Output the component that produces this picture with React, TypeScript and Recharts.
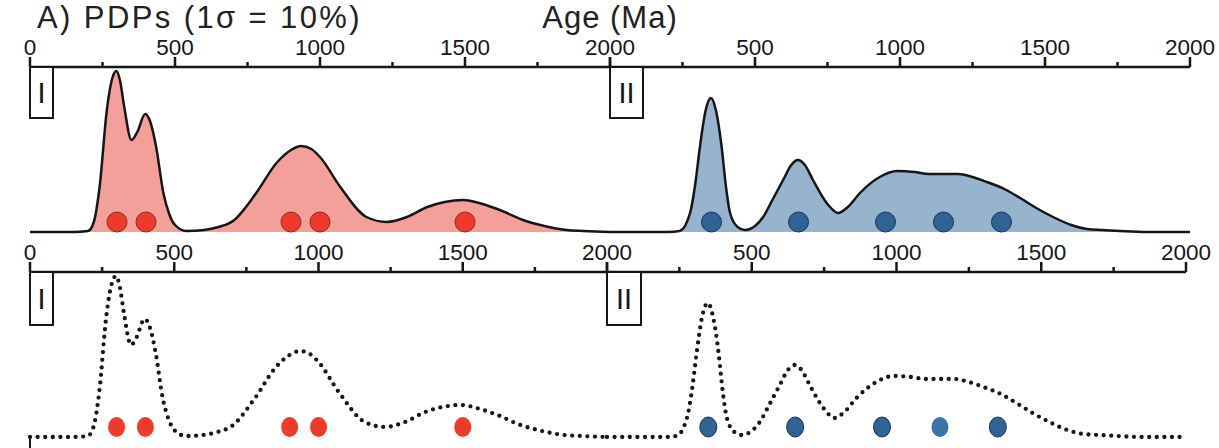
import React from 'react';
import { ComposedChart, Area, Line, Scatter, XAxis, YAxis } from 'recharts';

// PDP curves (density in plot units, baseline = 0)
const pdpAgesI = [0, 150, 200, 220, 240, 265, 285, 298, 310, 325, 350, 370, 397, 415, 435, 460, 480, 500, 540, 600, 650, 700, 780, 850, 900, 935, 970, 1000, 1070, 1160, 1230, 1300, 1370, 1430, 1495, 1560, 1620, 1700, 1760, 1850, 1910, 2000];
const pdpDensityI = [0, 0, 1, 10, 45, 122, 155, 161, 152, 125, 92, 100, 118, 110, 85, 39, 18, 7, 1, 2, 5, 11, 39, 69, 82, 86, 83, 75, 45, 15, 10, 15, 25, 30, 32, 28, 22, 12, 7, 2, 1, 0];

const pdpAgesII = [0, 200, 240, 276, 295, 310, 330, 348, 365, 385, 400, 414, 440, 465, 500, 528, 560, 597, 625, 648, 672, 700, 750, 786, 820, 862, 930, 990, 1050, 1100, 1200, 1250, 1300, 1360, 1414, 1470, 1528, 1590, 1645, 1700, 1760, 1850, 2000];
const pdpDensityII = [0, 0, 1, 19, 50, 85, 122, 134, 122, 85, 45, 19, 5, 2, 6, 15, 32, 52, 67, 72, 67, 52, 28, 19, 25, 39, 55, 61, 60, 58, 58, 55, 50, 43, 34, 24, 15, 7, 3, 2, 1, 0, 0];

// individual grain ages (Ma)
const grainAgesI = [300, 400, 900, 1000, 1500];
const grainAgesII = [350, 650, 950, 1150, 1350];

const ageTicks = [0, 250, 500, 750, 1000, 1250, 1500, 1750, 2000];

const DOT_LEVEL = 10;
const FONT = '"Liberation Sans", Arial, sans-serif';
const INK = '#161616';

const toRows = (ages: number[], dens: number[]) => ages.map((a, i) => ({ age: a, density: dens[i] }));
const toGrains = (ages: number[]) => ages.map((a) => ({ age: a, level: DOT_LEVEL }));

function AgeTick(props: any) {
  const { x, y, payload, hideZero } = props;
  const v = payload.value;
  const major = v % 500 === 0;
  const axisY = y + 12;
  return (
    <g>
      <line x1={x} x2={x} y1={axisY} y2={axisY - (major ? 10 : 5)} stroke={INK} strokeWidth={2.5} />
      {major && !(hideZero && v === 0) && (
        <text x={x} y={y} textAnchor="middle" fontSize={22.5} fill={INK} fontFamily={FONT}>
          {v}
        </text>
      )}
    </g>
  );
}

type PanelProps = {
  left: number;
  top: number;
  plotWidth: number;
  ages: number[];
  density: number[];
  grains: number[];
  fill: string;
  dotFill: string;
  dotStroke: string;
  dotted?: boolean;
  leftLine?: boolean;
  hideZero?: boolean;
  plainAge?: number;
};

function Panel(p: PanelProps) {
  const rows = toRows(p.ages, p.density);
  const grains = toGrains(p.grains);
  return (
    <div style={{ position: 'absolute', left: p.left - 30, top: p.top }}>
      <ComposedChart width={p.plotWidth + 60} height={240} data={rows} margin={{ top: 0, right: 30, bottom: 8, left: 30 }}>
        <XAxis
          dataKey="age"
          type="number"
          orientation="top"
          domain={[0, 2000]}
          ticks={ageTicks}
          interval={0}
          height={67}
          tickSize={10}
          tickMargin={2}
          tickLine={false}
          axisLine={{ stroke: INK, strokeWidth: 2.5 }}
          tick={(t: any) => <AgeTick {...t} hideZero={p.hideZero} />}
        />
        <YAxis
          type="number"
          domain={[0, 165]}
          width={0}
          tick={false}
          tickLine={false}
          axisLine={p.leftLine ? { stroke: INK, strokeWidth: 2 } : false}
        />
        {p.dotted ? (
          <Line
            type="monotone"
            dataKey="density"
            stroke={INK}
            strokeWidth={4.3}
            strokeLinecap="round"
            strokeDasharray="0 7.6"
            dot={false}
            isAnimationActive={false}
          />
        ) : (
          <Area
            type="monotone"
            dataKey="density"
            stroke={INK}
            strokeWidth={2.5}
            fill={p.fill}
            fillOpacity={1}
            baseValue={0}
            isAnimationActive={false}
          />
        )}
        <Scatter
          data={grains}
          dataKey="level"
          isAnimationActive={false}
          shape={(s: any) =>
            p.dotted ? (
              <ellipse
                cx={s.cx}
                cy={s.cy}
                rx={8.5}
                ry={10}
                fill={s.payload?.age === p.plainAge ? '#3A72AA' : p.dotFill}
                stroke={s.payload?.age === p.plainAge ? 'none' : p.dotStroke}
                strokeWidth={1}
              />
            ) : (
              <circle cx={s.cx} cy={s.cy} r={10} fill={p.dotFill} stroke={p.dotStroke} strokeWidth={1} />
            )
          }
        />
      </ComposedChart>
    </div>
  );
}

function Box({ x, y, w, h, label }: { x: number; y: number; w: number; h: number; label: string }) {
  return (
    <g>
      <rect x={x} y={y} width={w} height={h} fill="#fff" stroke={INK} strokeWidth={2} />
      <text x={x + w / 2} y={y + h / 2 + 10} textAnchor="middle" fontSize={29} fill={INK} fontFamily={FONT}>
        {label}
      </text>
    </g>
  );
}

export default function App() {
  const red = '#F4A09A';
  const blue = '#98B3CD';
  return (
    <div style={{ position: 'absolute', left: 0, top: 0, width: 1219, height: 448, overflow: 'hidden', background: '#fff' }}>
      <Panel left={30} top={0} plotWidth={580} ages={pdpAgesI} density={pdpDensityI} grains={grainAgesI}
        fill={red} dotFill="#EE3A2D" dotStroke="#8A2B22" leftLine />
      <Panel left={610} top={0} plotWidth={580} ages={pdpAgesII} density={pdpDensityII} grains={grainAgesII}
        fill={blue} dotFill="#2F6396" dotStroke="#1C3552" hideZero />
      <Panel left={30} top={205} plotWidth={577} ages={pdpAgesI} density={pdpDensityI} grains={grainAgesI}
        fill={red} dotFill="#EE3A2D" dotStroke="none" dotted leftLine />
      <Panel left={607} top={205} plotWidth={579} ages={pdpAgesII} density={pdpDensityII} grains={grainAgesII}
        fill={blue} dotFill="#2F6396" dotStroke="#1C3552" dotted hideZero plainAge={1150} />
      <svg width={1219} height={448} style={{ position: 'absolute', left: 0, top: 0, pointerEvents: 'none' }}>
        <text x={37} y={28} fontSize={31} letterSpacing={2.4} fill="#222" fontFamily={FONT}>
          A) PDPs (1σ = 10%)
        </text>
        <text x={610} y={28} fontSize={31} letterSpacing={1} textAnchor="middle" fill="#222" fontFamily={FONT}>
          Age (Ma)
        </text>
        <Box x={30} y={67} w={23} h={51} label="I" />
        <Box x={610} y={67} w={33} h={51} label="II" />
        <Box x={30} y={272} w={23} h={53} label="I" />
        <Box x={607} y={272} w={34} h={53} label="II" />
        <line x1={30} x2={30} y1={436} y2={448} stroke={INK} strokeWidth={2} />
      </svg>
    </div>
  );
}
